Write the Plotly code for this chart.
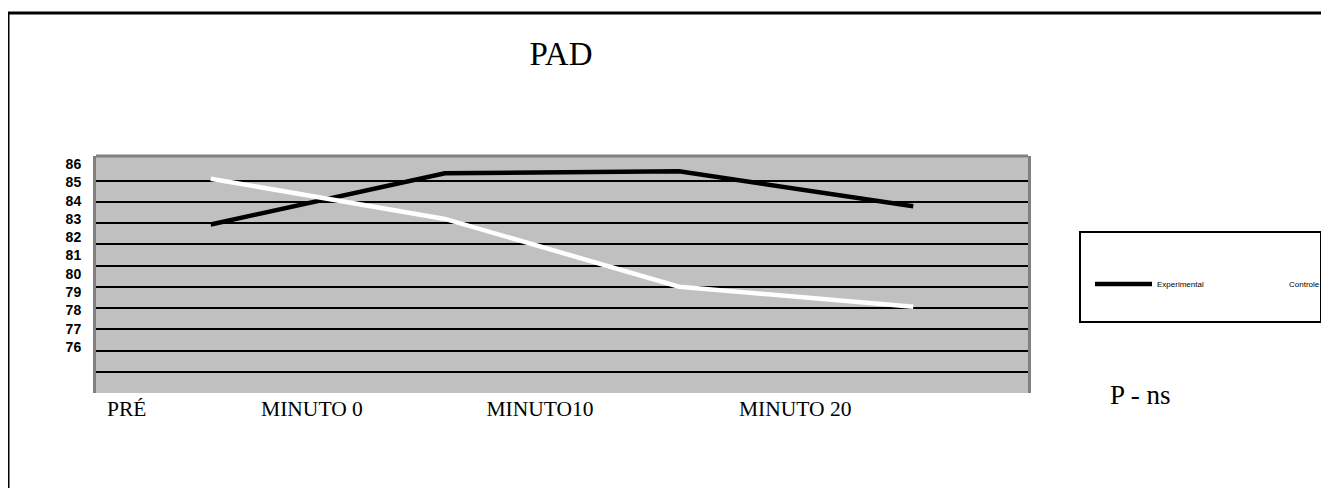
import plotly.graph_objects as go

# ---- data ----
categories = ["PRÉ", "MINUTO 0", "MINUTO10", "MINUTO 20"]
experimental = [82.7, 85.5, 85.6, 83.7]
controle = [85.2, 83.0, 79.3, 78.2]
y_ticks = [86, 85, 84, 83, 82, 81, 80, 79, 78, 77, 76]
series_names = ["Experimental", "Controle"]

# ---- layout constants (page pixels; the page body adds an 8px offset) ----
OFF = 8
W, H = 1329, 488
PLOT_L, PLOT_R, PLOT_T, PLOT_B = 96, 1028, 156, 393
L = PLOT_L - OFF
R = W - (PLOT_R - OFF)
T = PLOT_T - OFF
B = H - (PLOT_B - OFF)
PW, PH = PLOT_R - PLOT_L, PLOT_B - PLOT_T

def px_x(p):
    return (p - PLOT_L) / PW

def px_y(p):
    return (PLOT_B - p) / PH

x_idx = list(range(len(categories)))
label_pos = [-0.359, 0.432, 1.406, 2.496]  # where the category labels sit

fig = go.Figure()
fig.add_trace(go.Scatter(x=x_idx, y=experimental, name=series_names[0], mode="lines",
                         line=dict(color="black", width=4.5)))
fig.add_trace(go.Scatter(x=x_idx, y=controle, name=series_names[1], mode="lines",
                         line=dict(color="white", width=4.5)))

# invisible helper trace to carry the gridline axis
fig.add_trace(go.Scatter(x=[None], y=[None], yaxis="y2", showlegend=False, hoverinfo="skip"))

serif = "Liberation Serif, Times New Roman, serif"
sans = "Liberation Sans, Arial, sans-serif"

fig.update_layout(
    width=W, height=H,
    margin=dict(l=L, r=R, t=T, b=B, pad=0, autoexpand=False),
    paper_bgcolor="white",
    plot_bgcolor="#c0c0c0",
    title=dict(text="PAD", x=(561 - OFF) / W, xanchor="center", y=1 - (53 - OFF) / H,
               yanchor="middle", font=dict(family=serif, size=33, color="black")),
    xaxis=dict(range=[-0.49, 3.49], tickmode="array", tickvals=label_pos, ticktext=categories,
               showgrid=False, zeroline=False, showline=False, ticks="",
               tickfont=dict(family=serif, size=21.5, color="black")),
    yaxis=dict(range=[73.49, 86.44], tickmode="array", tickvals=y_ticks,
               ticktext=[str(v) for v in y_ticks], showgrid=False, zeroline=False,
               showline=True, linecolor="#808080", linewidth=3, mirror=True, ticks="",
               ticklabelstandoff=9,
               tickfont=dict(family=sans, size=14, color="black", weight="bold")),
    yaxis2=dict(overlaying="y", range=[0, 237 / 21.22], tickmode="array",
                tickvals=list(range(1, 11)), showticklabels=False, showgrid=True,
                gridcolor="black", gridwidth=2, zeroline=False, showline=False),
    showlegend=True,
    legend=dict(orientation="h", x=px_x(1090), xanchor="left", y=px_y(284), yanchor="middle",
                bgcolor="rgba(0,0,0,0)", borderwidth=0, itemwidth=57,
                entrywidth=60, entrywidthmode="pixels",
                font=dict(family=sans, size=8, color="black"), itemclick=False),
    shapes=[
        # outer chart border
        dict(type="rect", xref="paper", yref="paper", x0=px_x(8), x1=px_x(W + 20),
             y0=px_y(H + 20), y1=px_y(13), line=dict(color="black", width=3)),
        # top edge of the plot frame
        dict(type="line", xref="paper", yref="paper", x0=0, x1=1, y0=1, y1=1,
             line=dict(color="#808080", width=3)),
        # legend box
        dict(type="rect", xref="paper", yref="paper", x0=px_x(1080), x1=px_x(1321),
             y0=px_y(322), y1=px_y(232), line=dict(color="black", width=2)),
    ],
    annotations=[
        dict(text="P - ns", xref="paper", yref="paper", x=px_x(1108), y=px_y(395),
             xanchor="left", yanchor="middle", showarrow=False,
             font=dict(family=serif, size=27, color="black")),
    ],
)

fig.write_html("out.html")
